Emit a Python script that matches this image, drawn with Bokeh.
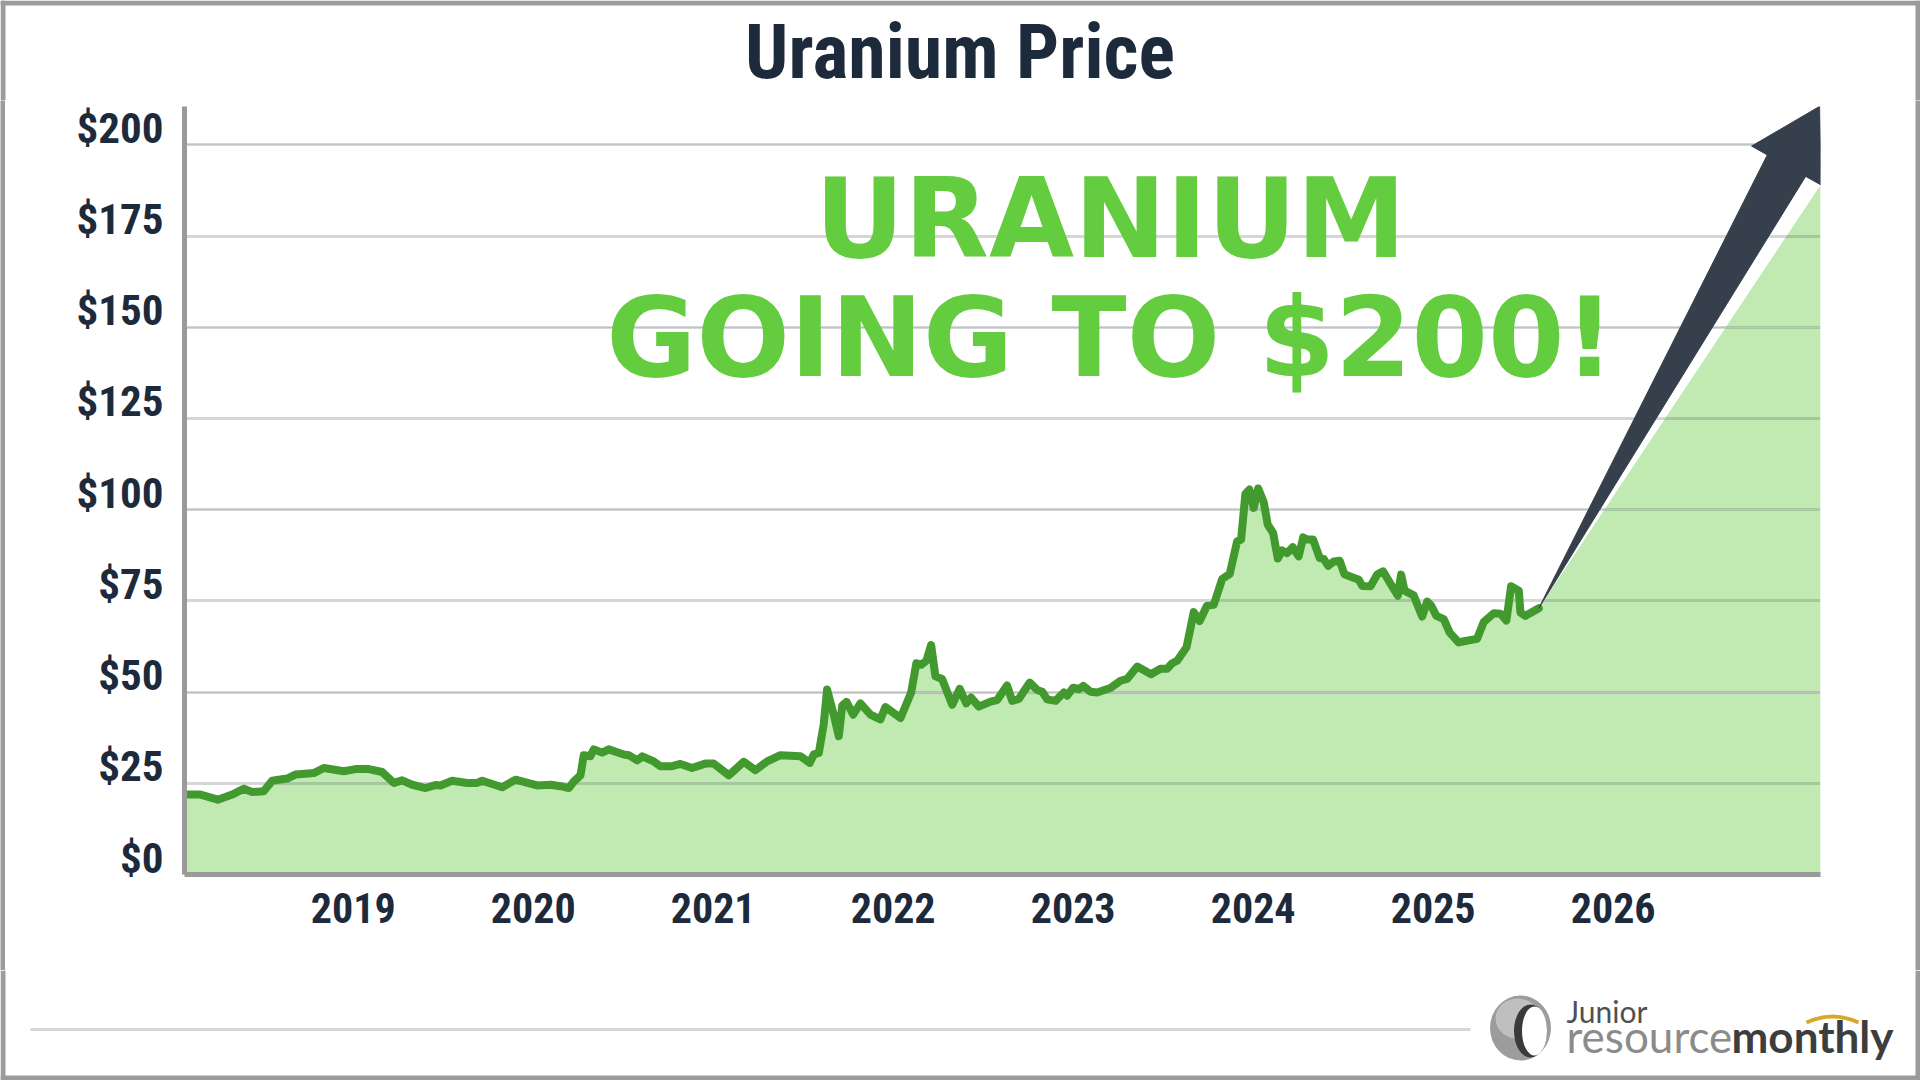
from bokeh.plotting import figure
from bokeh.models import Range1d, FixedTicker, Grid, Label, LinearAxis
from bokeh.layouts import column, row
from bokeh.core.properties import value
from bokeh.embed import file_html
from bokeh.resources import INLINE

# ---------------- data ----------------
years = [2018.063, 2018.152, 2018.248, 2018.328, 2018.392, 2018.439, 2018.503, 2018.550, 2018.633, 2018.679,
         2018.781, 2018.837, 2018.948, 2019.013, 2019.087, 2019.161, 2019.226, 2019.272, 2019.328, 2019.402,
         2019.457, 2019.485, 2019.550, 2019.633, 2019.689, 2019.717, 2019.828, 2019.902, 2020.022, 2020.096,
         2020.152, 2020.198, 2020.226, 2020.263, 2020.281, 2020.318, 2020.337, 2020.383, 2020.420, 2020.503,
         2020.531, 2020.578, 2020.606, 2020.670, 2020.707, 2020.772, 2020.818, 2020.883, 2020.957, 2021.003,
         2021.087, 2021.170, 2021.235, 2021.300, 2021.374, 2021.485, 2021.537, 2021.559, 2021.587, 2021.614,
         2021.633, 2021.670, 2021.698, 2021.717, 2021.741, 2021.778, 2021.818, 2021.874, 2021.929, 2021.957,
         2022.041, 2022.100, 2022.129, 2022.156, 2022.185, 2022.211, 2022.235, 2022.272, 2022.328, 2022.370,
         2022.406, 2022.433, 2022.476, 2022.541, 2022.578, 2022.633, 2022.661, 2022.698, 2022.759, 2022.800,
         2022.828, 2022.856, 2022.902, 2022.948, 2022.967, 2023.000, 2023.031, 2023.056, 2023.096, 2023.133,
         2023.207, 2023.263, 2023.300, 2023.356, 2023.433, 2023.485, 2023.522, 2023.550, 2023.578, 2023.630,
         2023.670, 2023.703, 2023.744, 2023.781, 2023.828, 2023.870, 2023.911, 2023.933, 2023.957, 2023.979,
         2024.003, 2024.028, 2024.059, 2024.081, 2024.111, 2024.137, 2024.161, 2024.189, 2024.220, 2024.253,
         2024.278, 2024.300, 2024.333, 2024.370, 2024.392, 2024.417, 2024.448, 2024.481, 2024.507, 2024.550,
         2024.587, 2024.606, 2024.652, 2024.689, 2024.722, 2024.763, 2024.804, 2024.822, 2024.841, 2024.892,
         2024.939, 2024.967, 2024.989, 2025.018, 2025.059, 2025.092, 2025.142, 2025.179, 2025.244, 2025.281,
         2025.337, 2025.374, 2025.407, 2025.433, 2025.476, 2025.485, 2025.513, 2025.587]
prices = [21.9, 21.9, 20.5, 21.9, 23.5, 22.6, 22.8, 25.7, 26.3, 27.4,
          27.8, 29.2, 28.3, 28.9, 28.9, 28.1, 25.1, 25.8, 24.6, 23.7,
          24.5, 24.4, 25.7, 25.1, 25.1, 25.7, 23.9, 26.0, 24.4, 24.6,
          24.2, 23.7, 25.5, 27.2, 32.7, 32.4, 34.3, 33.4, 34.3, 32.9,
          32.7, 31.3, 32.4, 31.0, 29.7, 29.7, 30.3, 29.2, 30.4, 30.4,
          27.2, 30.9, 28.6, 31.0, 32.7, 32.4, 30.6, 32.9, 33.3, 41.1,
          50.7, 43.8, 37.9, 46.3, 47.3, 43.8, 46.9, 43.8, 42.5, 45.9,
          42.9, 49.9, 57.9, 57.5, 58.6, 62.9, 54.3, 53.6, 46.5, 50.9,
          46.9, 48.5, 46.0, 47.4, 47.8, 51.8, 47.6, 48.1, 52.6, 50.6,
          50.1, 48.0, 47.6, 49.9, 49.0, 51.2, 50.8, 51.7, 50.1, 49.9,
          51.1, 53.1, 53.6, 57.0, 54.9, 56.4, 56.4, 57.9, 58.6, 62.3,
          71.9, 69.5, 73.7, 73.9, 81.0, 82.4, 91.3, 91.8, 104.3, 105.5,
          100.5, 105.8, 102.0, 95.9, 93.6, 86.6, 88.8, 88.1, 89.7, 87.2,
          92.4, 91.8, 91.8, 86.7, 86.5, 84.6, 85.8, 86.0, 82.3, 81.5,
          80.8, 79.1, 79.0, 82.2, 83.1, 79.7, 76.4, 82.2, 77.8, 76.5,
          70.7, 74.8, 73.7, 70.9, 70.0, 66.3, 63.6, 64.0, 64.6, 69.2,
          71.6, 71.5, 69.6, 79.0, 77.8, 71.8, 70.9, 73.0]

projection_year = 2027.152
projection_price = 189.0

x_ticks = [2019, 2020, 2021, 2022, 2023, 2024, 2025, 2026]
x_tick_labels = ["2019", "2020", "2021", "2022", "2023", "2024", "2025", "2026"]
y_ticks = [0, 25, 50, 75, 100, 125, 150, 175, 200]
y_tick_labels = ["$0", "$25", "$50", "$75", "$100", "$125", "$150", "$175", "$200"]

title_text = "Uranium Price"
headline = ["URANIUM", "GOING TO $200!"]

# ---------------- layout constants (page pixels) ----------------
X0, X1 = 2018.063, 2027.152
Y0, Y1 = 0.0, 210.5
FL, FT, FW, FH = 184, 106, 1636, 768   # chart frame on the page
PW, PH, B = 1920, 1080, 5              # page size, border width
BORDER = "#9b9b9b"

def x_to_px(x):
    return FL + (x - X0) / (X1 - X0) * FW

def y_to_py(y):
    return FT + FH - (y - Y0) / (Y1 - Y0) * FH

def px_to_x(px):
    return X0 + (px - FL) / FW * (X1 - X0)

def py_to_y(py):
    return Y0 + (FT + FH - py) / FH * (Y1 - Y0)

NAVY = "#1c2a3c"
COND = "Noto Sans ExtraCondensed, Noto Sans Condensed, Roboto Condensed, Liberation Sans Narrow, Roboto"
MID = 0.37   # baseline offset (in em) of a 'middle' anchored text


def strip(top, bottom):
    """A full-width figure whose frame is the whole canvas; data units = page pixels (y negated)."""
    s = figure(width=PW, height=bottom - top, x_range=Range1d(0, PW), y_range=Range1d(-bottom, -top),
               output_backend="svg", toolbar_location=None, x_axis_location=None,
               y_axis_location=None, min_border=0)
    s.frame_align = False
    s.outline_line_color = None
    s.grid.visible = False
    s.background_fill_color = "white"
    s.border_fill_color = "white"
    s.quad(left=[0, PW - B], right=[B, PW], top=[-top, -top], bottom=[-bottom, -bottom],
           fill_color=BORDER, line_color=None)
    return s


def side_bar(height):
    s = figure(width=B, height=height, output_backend="svg", toolbar_location=None,
               x_axis_location=None, y_axis_location=None, min_border=0)
    s.frame_align = False
    s.outline_line_color = None
    s.grid.visible = False
    s.background_fill_color = BORDER
    s.border_fill_color = BORDER
    return s

# ---------------- header (title) ----------------
HEAD_BOT = 100
h = strip(0, HEAD_BOT)
h.quad(left=[0], right=[PW], top=[0], bottom=[-B], fill_color=BORDER, line_color=None)
TS = 76
h.text(x=[959.5], y=[-(80 - MID * TS)], text=[title_text], text_align="center", text_baseline="middle",
       text_font=value(COND), text_font_style="bold", text_font_size=f"{TS}px", text_color=NAVY)

# ---------------- main chart ----------------
MAIN_TOP, MAIN_BOT = HEAD_BOT, 970
MAIN_H = MAIN_BOT - MAIN_TOP
p = figure(width=PW - 2 * B, height=MAIN_H, x_range=Range1d(X0, X1), y_range=Range1d(Y0, Y1),
           output_backend="svg", toolbar_location=None, y_axis_location=None,
           min_border_left=FL - B, min_border_right=PW - B - (FL + FW),
           min_border_top=FT - MAIN_TOP, min_border_bottom=MAIN_BOT - (FT + FH))
p.frame_align = False
p.background_fill_color = "white"
p.border_fill_color = "white"
p.outline_line_color = None
p.xgrid.visible = False

shift = py_to_y(FT + FH - 17) - Y0
p.extra_y_ranges = {"lab": Range1d(Y0 - shift, Y1 - shift)}

fx = years + [projection_year]
fy = prices + [projection_price]
r_fill = p.varea(x=fx, y1=[0] * len(fx), y2=fy, fill_color="#c1eab3")
r_fill.level = "image"

g = Grid(dimension=1, ticker=FixedTicker(ticks=y_ticks), grid_line_color="#58606a",
         grid_line_alpha=0.26, grid_line_width=3)
p.add_layout(g)

p.line(years, prices, line_color="#429a2e", line_width=8, line_join="round", line_cap="round")

# arrow from the last price to the top-right corner
sx, sy = x_to_px(years[-1]), y_to_py(prices[-1])
tx, ty = x_to_px(X1) - 0.8, y_to_py(Y1) - 0.2
L = ((tx - sx) ** 2 + (ty - sy) ** 2) ** 0.5
dx, dy = (tx - sx) / L, (ty - sy) / L
nx, ny = -dy, dx
head_len, head_w, shaft_w = 68, 40, 22
bx, by = tx - head_len * dx, ty - head_len * dy
pts = [(sx, sy),
       (bx - shaft_w * nx, by - shaft_w * ny),
       (bx - head_w * nx, by - head_w * ny),
       (tx, ty),
       (bx + head_w * nx, by + head_w * ny),
       (bx + shaft_w * nx, by + shaft_w * ny)]
p.patch([px_to_x(a) for a, b in pts], [py_to_y(b) for a, b in pts],
        fill_color="#36404c", line_color="#36404c", line_width=1)

xa = p.xaxis[0]
xa.ticker = FixedTicker(ticks=x_ticks)
xa.major_label_overrides = {t: l for t, l in zip(x_ticks, x_tick_labels)}
xa.axis_line_color = "#9a9a9a"
xa.axis_line_width = 5
xa.major_tick_line_color = None
xa.minor_tick_line_color = None
xa.major_label_standoff = 12
xa.major_label_text_font = COND
xa.major_label_text_font_style = "bold"
xa.major_label_text_font_size = "42px"
xa.major_label_text_color = NAVY

ya = LinearAxis(y_range_name="lab", ticker=FixedTicker(ticks=y_ticks),
                major_label_overrides={t: l for t, l in zip(y_ticks, y_tick_labels)})
ya.axis_line_color = "#9a9a9a"
ya.axis_line_width = 5
ya.major_tick_line_color = None
ya.minor_tick_line_color = None
ya.major_label_standoff = 15
ya.major_label_text_font = COND
ya.major_label_text_font_style = "bold"
ya.major_label_text_font_size = "43px"
ya.major_label_text_color = NAVY
p.add_layout(ya, "left")

HS = 110
for line_text, base in zip(headline, [261, 380]):
    p.add_layout(Label(x=px_to_x(1110), y=py_to_y(base - MID * HS - 2), text=line_text,
                       text_align="center", text_baseline="middle", text_font="DejaVu Sans",
                       text_font_style="bold", text_font_size=f"{HS}px", text_color="#63cc3f"))

mid = row(side_bar(MAIN_H), p, side_bar(MAIN_H))

# ---------------- footer with logo ----------------
FOOT_TOP = MAIN_BOT
f = strip(FOOT_TOP, PH)
f.quad(left=[0], right=[PW], top=[-(PH - B)], bottom=[-PH], fill_color=BORDER, line_color=None)
f.line([30, 1470], [-1029, -1029], line_color="#d4d7da", line_width=3)
f.ellipse(x=[1520], y=[-1027.5], width=[61], height=[65], fill_color="#9c9c9c", line_color=None)
f.ellipse(x=[1517], y=[-1018], width=[44], height=[40], fill_color="#cfcfcf", line_color=None, fill_alpha=0.7)
f.ellipse(x=[1530], y=[-1030.5], width=[33], height=[53], fill_color="#3a3a3a", line_color=None)
f.ellipse(x=[1534], y=[-1030.5], width=[25], height=[49], fill_color="white", line_color=None)
for txt, x0, base, size, style, col in [("Junior", 1566, 1021.5, 30, "normal", "#505050"),
                                        ("resource", 1566, 1052, 44, "normal", "#8b8b8b"),
                                        ("monthly", 1731, 1052, 44, "bold", "#3d3d3d")]:
    f.text(x=[x0], y=[-(base - MID * size)], text=[txt], text_font=value("Lato"),
           text_font_style=style, text_font_size=f"{size}px", text_color=col, text_baseline="middle")
f.quadratic(x0=[1806], y0=[-1022], x1=[1858], y1=[-1022], cx=[1832], cy=[-1010],
            line_color="#d9a82a", line_width=4)

lay = column(h, mid, f)

open("out.html", "w").write(file_html(lay, INLINE))
